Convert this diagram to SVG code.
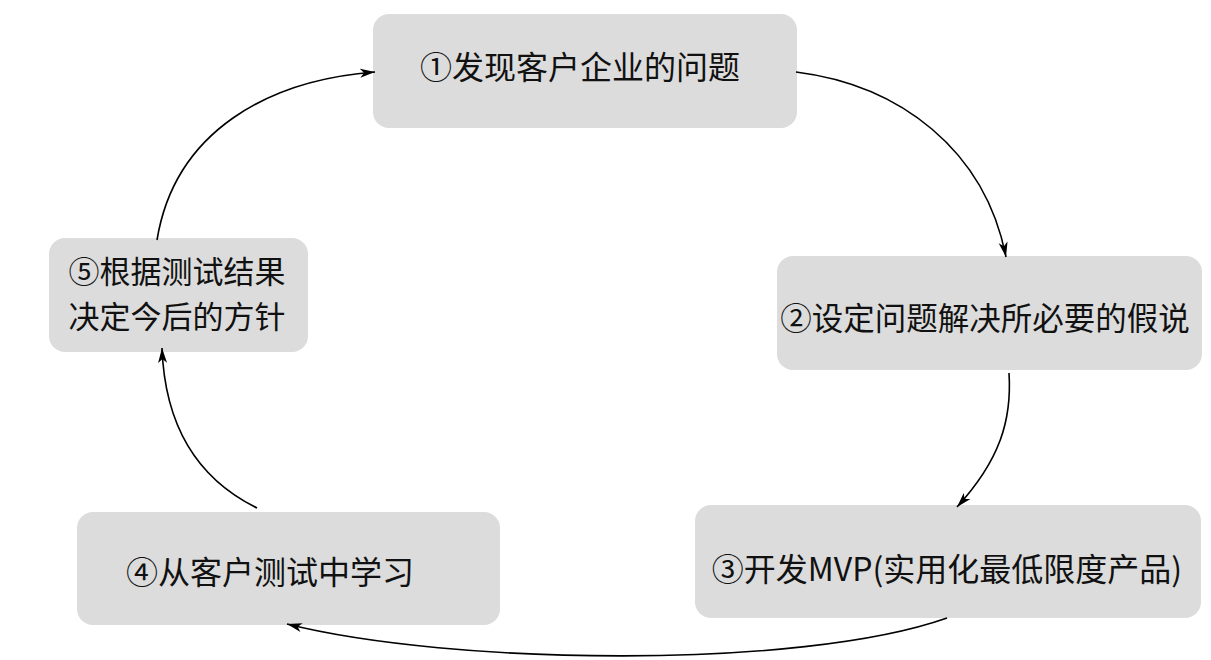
<svg xmlns="http://www.w3.org/2000/svg" width="1211" height="660" viewBox="0 0 1211 660">
<style>
.box{fill:#dcdcdc;}
.t{font-family:"Noto Sans CJK SC","Liberation Serif",sans-serif;font-size:32px;fill:#111;text-anchor:middle;}
.c{fill:none;stroke:#000;stroke-width:1.6;}
</style>
<defs>
<marker id="ah" markerUnits="userSpaceOnUse" markerWidth="16" markerHeight="10" refX="15" refY="5" orient="auto">
<path d="M0,0.5 L15,5 L0,9.5 L4,5 z" fill="#000"/>
</marker>
</defs>
<rect width="1211" height="660" fill="#fff"/>
<g id="n1">
<rect class="box" x="373" y="14" width="424" height="114" rx="16"/>
<text class="t" x="580" y="79">①发现客户企业的问题</text>
</g>
<g id="n2">
<rect class="box" x="777" y="256" width="425" height="114" rx="16"/>
<text class="t" x="985" y="330" style="font-size:31.5px">②设定问题解决所必要的假说</text>
</g>
<g id="n3">
<rect class="box" x="695" y="505" width="506" height="113" rx="16"/>
<text class="t" x="947" y="581">③开发MVP(实用化最低限度产品)</text>
</g>
<g id="n4">
<rect class="box" x="77" y="512" width="423" height="113" rx="16"/>
<text class="t" x="270" y="584">④从客户测试中学习</text>
</g>
<g id="n5">
<rect class="box" x="49" y="238" width="259" height="114" rx="16"/>
<text class="t" x="177" y="283" style="font-size:31px">⑤根据测试结果</text>
<text class="t" x="177" y="328" style="font-size:31px">决定今后的方针</text>
</g>
<g id="connectors">
<path class="c" d="M796,72 C900,85 985,150 1006,257" marker-end="url(#ah)"/>
<path class="c" d="M1009,373 C1012,420 1000,460 957,507" marker-end="url(#ah)"/>
<path class="c" d="M947,618 C800,670 450,665 287,624" marker-end="url(#ah)"/>
<path class="c" d="M257,508 C200,480 165,430 162,348" marker-end="url(#ah)"/>
<path class="c" d="M157,240 C175,130 270,80 375,72" marker-end="url(#ah)"/>
</g>
</svg>
